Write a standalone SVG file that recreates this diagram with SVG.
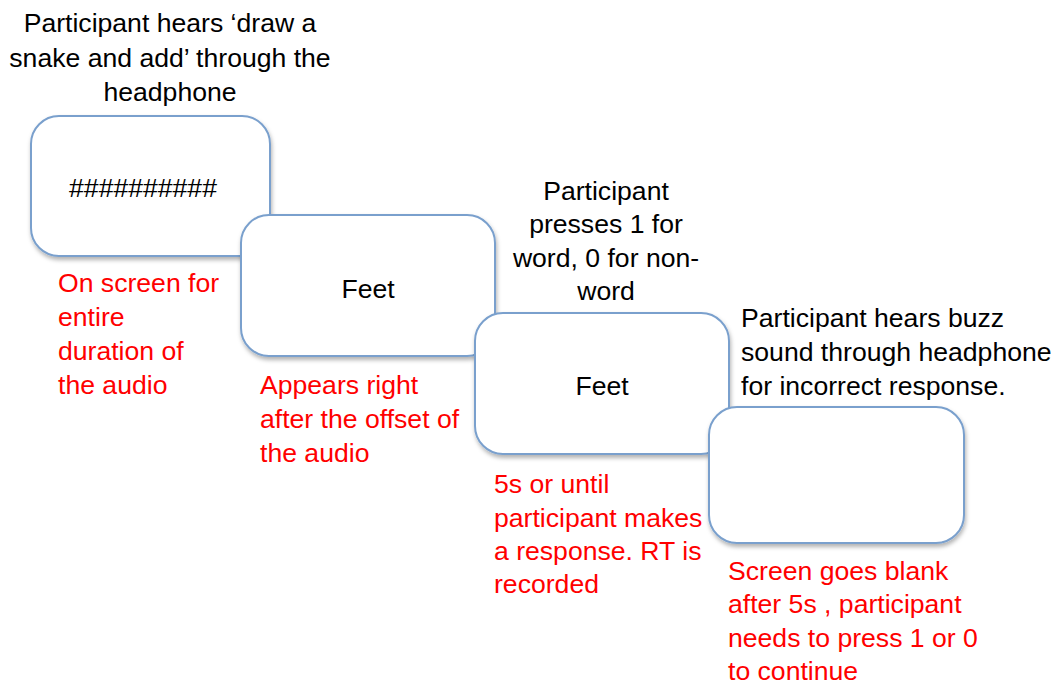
<svg xmlns="http://www.w3.org/2000/svg" width="1057" height="684" viewBox="0 0 1057 684">
<defs>
<filter id="sh" x="-10%" y="-10%" width="130%" height="130%">
<feDropShadow dx="1" dy="3" stdDeviation="2" flood-color="#000" flood-opacity="0.3"/>
</filter>
</defs>
<style>
.box{fill:#fff;stroke:#7aa0cd;stroke-width:2;filter:url(#sh)}
text{font-family:"Liberation Sans",Arial,sans-serif;font-size:26.6px}
.k{fill:#000}
.r{fill:#ff0000}
.c{text-anchor:middle}
</style>
<rect width="1057" height="684" fill="#fff"/>
<g id="connectors"></g>
<g id="node1">
<rect class="box" x="31" y="116" width="239" height="140" rx="28"/>
<text class="k c" x="143" y="197">##########</text>
</g>
<g id="node2">
<rect class="box" x="241" y="215" width="254" height="141" rx="28"/>
<text class="k c" x="368" y="298">Feet</text>
</g>
<g id="node3">
<rect class="box" x="475" y="313" width="254" height="141" rx="28"/>
<text class="k c" x="602" y="395">Feet</text>
</g>
<g id="node4">
<rect class="box" x="709" y="407" width="255" height="136" rx="28"/>
</g>
<g id="label-top">
<text class="k c" x="170" y="32">Participant hears ‘draw a</text>
<text class="k c" x="170" y="66.5">snake and add’ through the</text>
<text class="k c" x="170" y="101">headphone</text>
</g>
<g id="label-press">
<text class="k c" x="606" y="200">Participant</text>
<text class="k c" x="606" y="233">presses 1 for</text>
<text class="k c" x="606" y="267">word, 0 for non-</text>
<text class="k c" x="606" y="300">word</text>
</g>
<g id="label-buzz">
<text class="k" x="741" y="327">Participant hears buzz</text>
<text class="k" x="741" y="361">sound through headphone</text>
<text class="k" x="741" y="395">for incorrect response.</text>
</g>
<g id="note1">
<text class="r" x="58" y="292">On screen for</text>
<text class="r" x="58" y="326">entire</text>
<text class="r" x="58" y="360">duration of</text>
<text class="r" x="58" y="394">the audio</text>
</g>
<g id="note2">
<text class="r" x="260" y="394">Appears right</text>
<text class="r" x="260" y="428">after the offset of</text>
<text class="r" x="260" y="462">the audio</text>
</g>
<g id="note3">
<text class="r" x="494" y="493">5s or until</text>
<text class="r" x="494" y="527">participant makes</text>
<text class="r" x="494" y="560">a response. RT is</text>
<text class="r" x="494" y="593">recorded</text>
</g>
<g id="note4">
<text class="r" x="728" y="580">Screen goes blank</text>
<text class="r" x="728" y="613">after 5s , participant</text>
<text class="r" x="728" y="647">needs to press 1 or 0</text>
<text class="r" x="728" y="680">to continue</text>
</g>
</svg>
